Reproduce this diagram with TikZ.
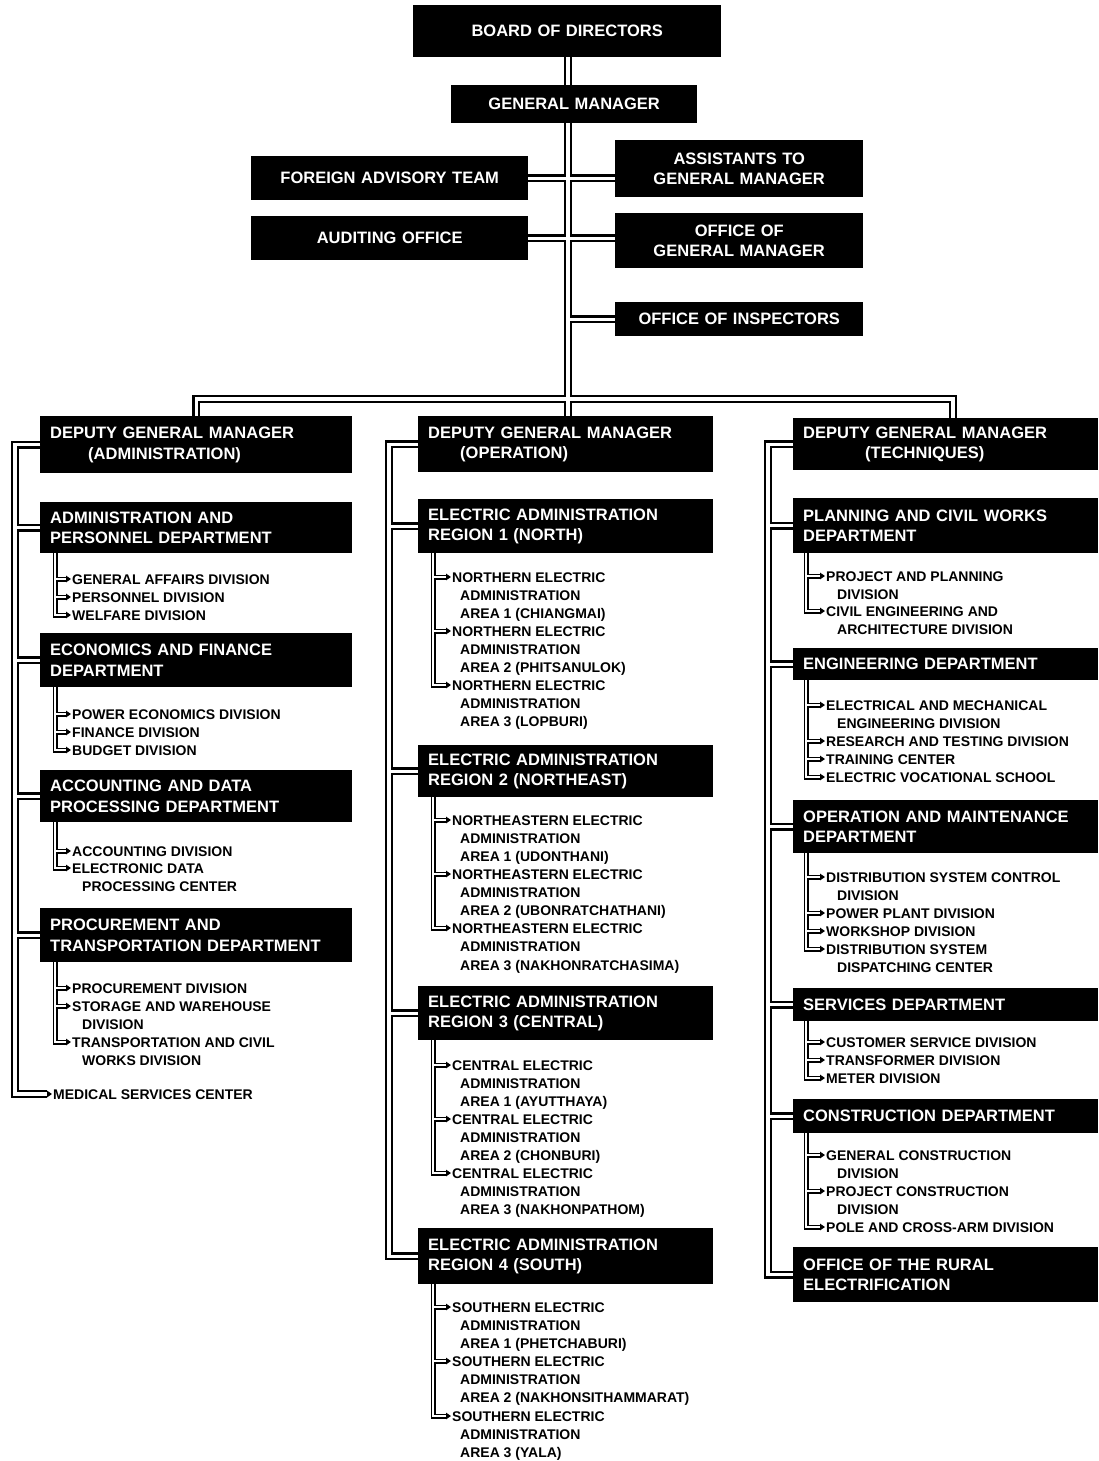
\documentclass[tikz,border=0pt]{standalone}
\usepackage{fontspec}
\setmainfont{Liberation Sans}
\usetikzlibrary{arrows.meta}
\newcommand\boxf{\bfseries\fontsize{16.5}{20.5}\selectfont}
\newcommand\itmf{\bfseries\fontsize{14}{18}\selectfont}
\newcommand\ITM[4]{\node[itm] (#1) at (#2,#3) {#4};}
\newcommand\BX[8]{\node[#8,minimum width=#4pt,minimum height=#5pt,text width=#6pt] (#1) at (#2,#3) {#7};}
\newcommand\SUBL[3]{\draw[sub,tip] (#1 |- #2.south) |- (#3.west);}
\newcommand\SUBI[2]{\draw[sub,tip] (#1 |- #2.west) -- (#2.west);}
\newcommand\conns{%
 % top
 \draw[conn] (board.south -| tk) -- (gm.north -| tk);
 \draw[conn] (gm.south -| tk) -- (dgmO.north -| tk);
 \draw[conn] (fat.east) -- (fat.east -| ast.west);
 \draw[conn] (aud.east) -- (aud.east -| ogm.west);
 \draw[conn] (tk |- ins.west) -- (ins.west);
 \draw[conn] (dgmA.north) -- (dgmA.north |- bus) -- (busR) -- (dgmT.north -| busR);
 % left column
 \draw[conn,tip] (dgmA.west) -| (trL |- med.west) -- (med.west);
 \draw[conn] (trL |- apd.west) -- (apd.west);
 \draw[conn] (trL |- efd.west) -- (efd.west);
 \draw[conn] (trL |- adp.west) -- (adp.west);
 \draw[conn] (trL |- ptd.west) -- (ptd.west);
 % middle column
 \draw[conn] (dgmO.west) -| (trM |- rg4.west) -- (rg4.west);
 \draw[conn] (trM |- rg1.west) -- (rg1.west);
 \draw[conn] (trM |- rg2.west) -- (rg2.west);
 \draw[conn] (trM |- rg3.west) -- (rg3.west);
 % right column
 \draw[conn] (dgmT.west) -| (trR |- rur.west) -- (rur.west);
 \draw[conn] (trR |- pcw.west) -- (pcw.west);
 \draw[conn] (trR |- eng.west) -- (eng.west);
 \draw[conn] (trR |- omd.west) -- (omd.west);
 \draw[conn] (trR |- svc.west) -- (svc.west);
 \draw[conn] (trR |- con.west) -- (con.west);
 % sub brackets left
 \SUBL{sbL}{apd}{wd} \SUBI{sbL}{ga} \SUBI{sbL}{pd}
 \SUBL{sbL}{efd}{bd} \SUBI{sbL}{pe} \SUBI{sbL}{fd}
 \SUBL{sbL}{adp}{ed} \SUBI{sbL}{ad}
 \SUBL{sbL}{ptd}{tc} \SUBI{sbL}{prd} \SUBI{sbL}{sw}
 % sub brackets middle
 \SUBL{sbM}{rg1}{n3} \SUBI{sbM}{n1} \SUBI{sbM}{n2}
 \SUBL{sbM}{rg2}{ne3} \SUBI{sbM}{ne1} \SUBI{sbM}{ne2}
 \SUBL{sbM}{rg3}{c3} \SUBI{sbM}{c1} \SUBI{sbM}{c2}
 \SUBL{sbM}{rg4}{s3} \SUBI{sbM}{s1} \SUBI{sbM}{s2}
 % sub brackets right
 \SUBL{sbR}{pcw}{ce} \SUBI{sbR}{pp}
 \SUBL{sbR}{eng}{ev} \SUBI{sbR}{em} \SUBI{sbR}{rsd} \SUBI{sbR}{tr}
 \SUBL{sbR}{omd}{dsd} \SUBI{sbR}{dsc} \SUBI{sbR}{pwp} \SUBI{sbR}{ws}
 \SUBL{sbR}{svc}{mt} \SUBI{sbR}{cs} \SUBI{sbR}{tf}
 \SUBL{sbR}{con}{pca} \SUBI{sbR}{gc} \SUBI{sbR}{pc}
}
\begin{document}
\begin{tikzpicture}[x=1pt,y=-1pt,
  box/.style={fill=black,text=white,font=\boxf,inner xsep=10pt,inner ysep=0pt,anchor=north west,align=left},
  cbox/.style={box,align=center},
  itm/.style={inner sep=0pt,anchor=west,text height=10pt,text depth=0pt,font=\itmf},
  conn/.style={draw=black,line width=8pt},
  sub/.style={draw=black,line width=5pt},
  tip/.style={}]
\fill[white] (0,0) rectangle (1098,1461);
\useasboundingbox (0,0) rectangle (1098,1461);
% reference coordinates
\coordinate (tk) at (568,0);
\coordinate (bus) at (568,399);
\coordinate (busR) at (953,399);
\coordinate (trL) at (15,0);
\coordinate (trM) at (389,0);
\coordinate (trR) at (768,0);
\coordinate (sbL) at (55,0);
\coordinate (sbM) at (433,0);
\coordinate (sbR) at (806,0);
% top boxes
\BX{board}{413}{5}{308}{52}{288}{BOARD OF DIRECTORS}{cbox}
\BX{gm}{451}{85}{246}{38}{226}{GENERAL MANAGER}{cbox}
\BX{fat}{251}{156}{277}{44}{257}{FOREIGN ADVISORY TEAM}{cbox}
\BX{ast}{615}{140}{248}{57}{228}{ASSISTANTS TO\\GENERAL MANAGER}{cbox}
\BX{aud}{251}{216}{277}{44}{257}{AUDITING OFFICE}{cbox}
\BX{ogm}{615}{213}{248}{55}{228}{OFFICE OF\\GENERAL MANAGER}{cbox}
\BX{ins}{615}{302}{248}{34}{228}{OFFICE OF INSPECTORS}{cbox}
% left column boxes
\BX{dgmA}{40}{416}{312}{57}{292}{DEPUTY GENERAL MANAGER\\\hspace*{38pt}(ADMINISTRATION)}{box}
\BX{apd}{40}{502}{312}{51}{292}{ADMINISTRATION AND\\PERSONNEL DEPARTMENT}{box}
\BX{efd}{40}{633}{312}{54}{292}{ECONOMICS AND FINANCE\\DEPARTMENT}{box}
\BX{adp}{40}{770}{312}{52}{292}{ACCOUNTING AND DATA\\PROCESSING DEPARTMENT}{box}
\BX{ptd}{40}{908}{312}{54}{292}{PROCUREMENT AND\\TRANSPORTATION DEPARTMENT}{box}
% middle column boxes
\BX{dgmO}{418}{416}{295}{56}{275}{DEPUTY GENERAL MANAGER\\\hspace*{32pt}(OPERATION)}{box}
\BX{rg1}{418}{499}{295}{54}{275}{ELECTRIC ADMINISTRATION\\REGION 1 (NORTH)}{box}
\BX{rg2}{418}{745}{295}{52}{275}{ELECTRIC ADMINISTRATION\\REGION 2 (NORTHEAST)}{box}
\BX{rg3}{418}{986}{295}{54}{275}{ELECTRIC ADMINISTRATION\\REGION 3 (CENTRAL)}{box}
\BX{rg4}{418}{1228}{295}{56}{275}{ELECTRIC ADMINISTRATION\\REGION 4 (SOUTH)}{box}
% right column boxes
\BX{dgmT}{793}{418}{305}{52}{285}{DEPUTY GENERAL MANAGER\\\hspace*{62pt}(TECHNIQUES)}{box}
\BX{pcw}{793}{498}{305}{55}{285}{PLANNING AND CIVIL WORKS\\DEPARTMENT}{box}
\BX{eng}{793}{648}{305}{32}{285}{ENGINEERING DEPARTMENT}{box}
\BX{omd}{793}{800}{305}{53}{285}{OPERATION AND MAINTENANCE\\DEPARTMENT}{box}
\BX{svc}{793}{988}{305}{33}{285}{SERVICES DEPARTMENT}{box}
\BX{con}{793}{1099}{305}{34}{285}{CONSTRUCTION DEPARTMENT}{box}
\BX{rur}{793}{1247}{305}{55}{285}{OFFICE OF THE RURAL\\ELECTRIFICATION}{box}
% left items
\ITM{ga}{72}{579}{GENERAL AFFAIRS DIVISION}
\ITM{pd}{72}{597}{PERSONNEL DIVISION}
\ITM{wd}{72}{615}{WELFARE DIVISION}
\ITM{pe}{72}{714}{POWER ECONOMICS DIVISION}
\ITM{fd}{72}{732}{FINANCE DIVISION}
\ITM{bd}{72}{750}{BUDGET DIVISION}
\ITM{ad}{72}{851}{ACCOUNTING DIVISION}
\ITM{ed}{72}{868}{ELECTRONIC DATA}
\ITM{edb}{82}{886}{PROCESSING CENTER}
\ITM{prd}{72}{988}{PROCUREMENT DIVISION}
\ITM{sw}{72}{1006}{STORAGE AND WAREHOUSE}
\ITM{swb}{82}{1024}{DIVISION}
\ITM{tc}{72}{1042}{TRANSPORTATION AND CIVIL}
\ITM{tcb}{82}{1060}{WORKS DIVISION}
\ITM{med}{53}{1094}{MEDICAL SERVICES CENTER}
% middle items
\ITM{n1}{452}{577}{NORTHERN ELECTRIC}
\ITM{n1b}{460}{595}{ADMINISTRATION}
\ITM{n1c}{460}{613}{AREA 1 (CHIANGMAI)}
\ITM{n2}{452}{631}{NORTHERN ELECTRIC}
\ITM{n2b}{460}{649}{ADMINISTRATION}
\ITM{n2c}{460}{667}{AREA 2 (PHITSANULOK)}
\ITM{n3}{452}{685}{NORTHERN ELECTRIC}
\ITM{n3b}{460}{703}{ADMINISTRATION}
\ITM{n3c}{460}{721}{AREA 3 (LOPBURI)}
\ITM{ne1}{452}{820}{NORTHEASTERN ELECTRIC}
\ITM{ne1b}{460}{838}{ADMINISTRATION}
\ITM{ne1c}{460}{856}{AREA 1 (UDONTHANI)}
\ITM{ne2}{452}{874}{NORTHEASTERN ELECTRIC}
\ITM{ne2b}{460}{892}{ADMINISTRATION}
\ITM{ne2c}{460}{910}{AREA 2 (UBONRATCHATHANI)}
\ITM{ne3}{452}{928}{NORTHEASTERN ELECTRIC}
\ITM{ne3b}{460}{946}{ADMINISTRATION}
\ITM{ne3c}{460}{965}{AREA 3 (NAKHONRATCHASIMA)}
\ITM{c1}{452}{1065}{CENTRAL ELECTRIC}
\ITM{c1b}{460}{1083}{ADMINISTRATION}
\ITM{c1c}{460}{1101}{AREA 1 (AYUTTHAYA)}
\ITM{c2}{452}{1119}{CENTRAL ELECTRIC}
\ITM{c2b}{460}{1137}{ADMINISTRATION}
\ITM{c2c}{460}{1155}{AREA 2 (CHONBURI)}
\ITM{c3}{452}{1173}{CENTRAL ELECTRIC}
\ITM{c3b}{460}{1191}{ADMINISTRATION}
\ITM{c3c}{460}{1209}{AREA 3 (NAKHONPATHOM)}
\ITM{s1}{452}{1307}{SOUTHERN ELECTRIC}
\ITM{s1b}{460}{1325}{ADMINISTRATION}
\ITM{s1c}{460}{1343}{AREA 1 (PHETCHABURI)}
\ITM{s2}{452}{1361}{SOUTHERN ELECTRIC}
\ITM{s2b}{460}{1379}{ADMINISTRATION}
\ITM{s2c}{460}{1397}{AREA 2 (NAKHONSITHAMMARAT)}
\ITM{s3}{452}{1416}{SOUTHERN ELECTRIC}
\ITM{s3b}{460}{1434}{ADMINISTRATION}
\ITM{s3c}{460}{1452}{AREA 3 (YALA)}
% right items
\ITM{pp}{826}{576}{PROJECT AND PLANNING}
\ITM{ppb}{837}{594}{DIVISION}
\ITM{ce}{826}{611}{CIVIL ENGINEERING AND}
\ITM{ceb}{837}{629}{ARCHITECTURE DIVISION}
\ITM{em}{826}{705}{ELECTRICAL AND MECHANICAL}
\ITM{emb}{837}{723}{ENGINEERING DIVISION}
\ITM{rsd}{826}{741}{RESEARCH AND TESTING DIVISION}
\ITM{tr}{826}{759}{TRAINING CENTER}
\ITM{ev}{826}{777}{ELECTRIC VOCATIONAL SCHOOL}
\ITM{dsc}{826}{877}{DISTRIBUTION SYSTEM CONTROL}
\ITM{dscb}{837}{895}{DIVISION}
\ITM{pwp}{826}{913}{POWER PLANT DIVISION}
\ITM{ws}{826}{931}{WORKSHOP DIVISION}
\ITM{dsd}{826}{949}{DISTRIBUTION SYSTEM}
\ITM{dsdb}{837}{967}{DISPATCHING CENTER}
\ITM{cs}{826}{1042}{CUSTOMER SERVICE DIVISION}
\ITM{tf}{826}{1060}{TRANSFORMER DIVISION}
\ITM{mt}{826}{1078}{METER DIVISION}
\ITM{gc}{826}{1155}{GENERAL CONSTRUCTION}
\ITM{gcb}{837}{1173}{DIVISION}
\ITM{pc}{826}{1191}{PROJECT CONSTRUCTION}
\ITM{pcb}{837}{1209}{DIVISION}
\ITM{pca}{826}{1227}{POLE AND CROSS-ARM DIVISION}
% connectors: black pass then white pass
\tikzset{conn/.style={draw=black,line width=8pt},
  sub/.style={draw=black,line width=5pt},
  tip/.style={-{Triangle[length=5pt,width=6.5pt]},shorten >=1pt}}
\conns
\tikzset{conn/.style={draw=white,line width=3.2pt},
  sub/.style={draw=white,line width=1.8pt},
  tip/.style={shorten >=6pt}}
\conns
\end{tikzpicture}
\end{document}
